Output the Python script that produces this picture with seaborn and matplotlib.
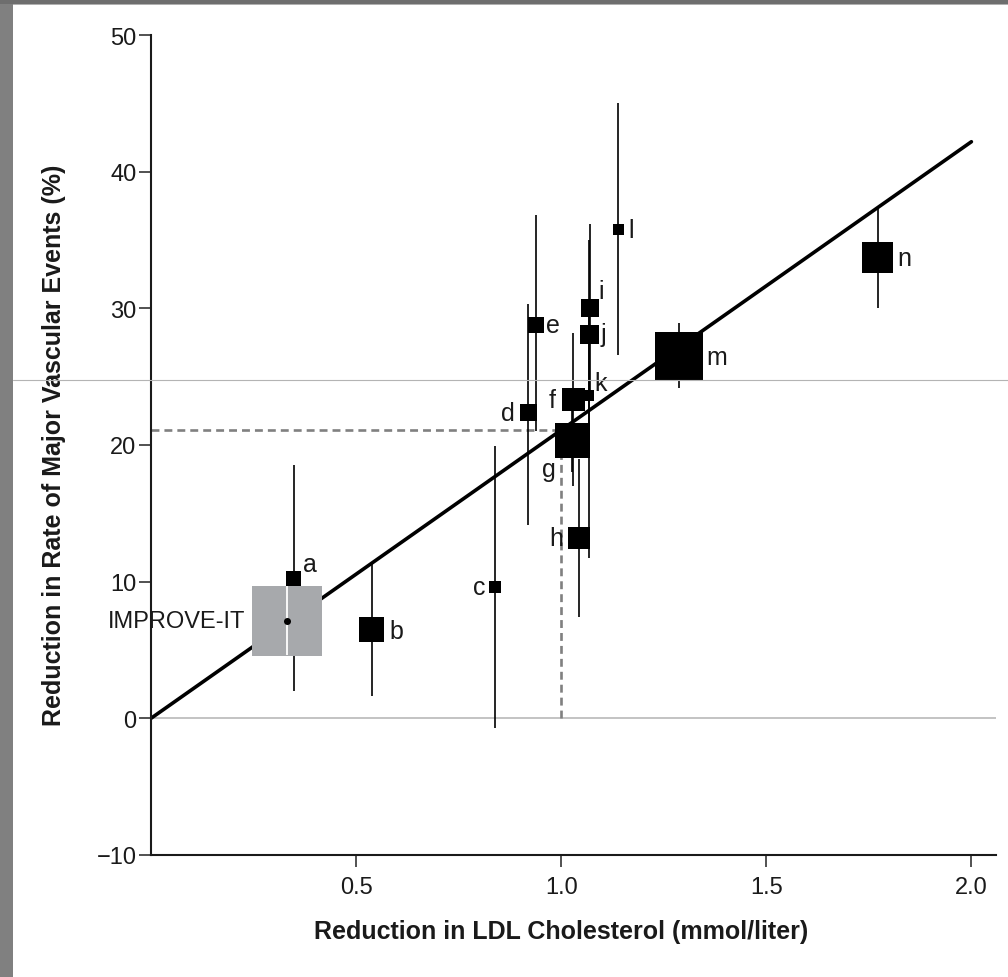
import numpy as np
import pandas as pd
import matplotlib
matplotlib.use("Agg")
import matplotlib.pyplot as plt
import seaborn as sns
from matplotlib.lines import Line2D
from matplotlib.patches import Rectangle

# ---------------- data ----------------
trials = ["a", "b", "c", "d", "e", "f", "g", "h", "i", "j", "k", "l", "m", "n"]
ldl_reduction = [0.348, 0.538, 0.837, 0.919, 0.939, 1.029, 1.027, 1.042,
                 1.069, 1.068, 1.067, 1.139, 1.287, 1.772]
event_reduction = [10.2, 6.5, 9.6, 22.35, 28.75, 23.3, 20.3, 13.2,
                   30.0, 28.1, 23.6, 35.75, 26.5, 33.7]
ci_low = [2.0, 1.6, -0.7, 14.15, 21.0, 17.0, 18.0, 7.4,
          24.0, 20.0, 11.7, 26.6, 24.2, 30.0]
ci_high = [18.5, 11.3, 19.9, 30.3, 36.8, 28.2, 23.0, 19.0,
           36.2, 35.0, 30.0, 45.0, 28.9, 37.4]
weights = [15, 25, 12, 17, 16, 23, 35, 22, 18, 19, 11, 11, 48, 31]

improve_name = "IMPROVE-IT"
improve_ldl = [0.331]
improve_event = [7.12]
improve_ci = [4.6, 9.8]
improve_weight = [70]

ctt_slope = 21.1
ctt_x = [0.0, 2.0]
ref_ldl = 1.0

x_ticks = [0.5, 1.0, 1.5, 2.0]
x_ticklabels = ["0.5", "1.0", "1.5", "2.0"]
y_ticks = [-10, 0, 10, 20, 30, 40, 50]
y_ticklabels = ["\u221210", "0", "10", "20", "30", "40", "50"]
x_label = "Reduction in LDL Cholesterol (mmol/liter)"
y_label = "Reduction in Rate of Major Vascular Events (%)"

# ---------------- style ----------------
sns.set_theme(style="white")
plt.rcParams["font.family"] = ["Liberation Sans", "DejaVu Sans"]
TXT = "#1a1a1a"

df = pd.DataFrame({"trial": trials, "ldl": ldl_reduction, "event": event_reduction,
                   "lo": ci_low, "hi": ci_high, "w": weights})
imp = pd.DataFrame({"ldl": improve_ldl, "event": improve_event, "w": improve_weight})

PX2PT = 72.0 / 100.0

fig = plt.figure(figsize=(10.08, 9.78), dpi=100)
ax = fig.add_axes([151.3 / 1008, (978 - 855.7) / 978, (996 - 151.3) / 1008, (855.7 - 36.2) / 978])

# reference lines
ax.axhline(0, color="#b3b3b3", lw=1.1, zorder=1)
xr = np.array(ctt_x)
ax.plot(xr, ctt_slope * xr, color="black", lw=2.6, solid_capstyle="round", zorder=2)
yref = ctt_slope * ref_ldl
ax.plot([0, ref_ldl], [yref, yref], color="#808080", lw=1.9, dashes=(3.0, 1.9), zorder=1.5)
ax.plot([ref_ldl, ref_ldl], [0, yref], color="#808080", lw=1.9, dashes=(3.0, 1.9), zorder=1.5)

# confidence intervals
ax.vlines(df["ldl"], df["lo"], df["hi"], color="black", lw=1.2, zorder=2.5)

# IMPROVE-IT box
sns.scatterplot(data=imp, x="ldl", y="event", marker="s", s=(imp["w"] * PX2PT) ** 2,
                color="#a7a9ac", linewidth=0, ax=ax, zorder=3, legend=False)
ax.vlines(imp["ldl"], improve_ci[0], improve_ci[1], color="white", lw=1.3, zorder=3.2)
sns.scatterplot(data=imp, x="ldl", y="event", marker="o", s=(7 * PX2PT) ** 2,
                color="black", linewidth=0, ax=ax, zorder=3.4, legend=False)

# trial squares
sns.scatterplot(data=df, x="ldl", y="event", marker="s", s=(df["w"] * PX2PT) ** 2,
                color="black", linewidth=0, ax=ax, zorder=4, legend=False)

# labels (offsets in pixels)
label_offsets = {"a": (16, -15), "b": (24, 2), "c": (-15, 0), "d": (-20, 0),
                 "e": (17, 0), "f": (-21, 0), "g": (-24, 28), "h": (-22, 0),
                 "i": (11, -17), "j": (14, 0), "k": (12, -13), "l": (13, 0),
                 "m": (38, 1), "n": (26, 0)}
for t, xv, yv in zip(trials, ldl_reduction, event_reduction):
    dx, dy = label_offsets[t]
    ax.annotate(t, (xv, yv), xytext=(dx * PX2PT, -dy * PX2PT), textcoords="offset points",
                ha="center", va="center", fontsize=18, color=TXT, zorder=5)
ax.annotate(improve_name, (improve_ldl[0], improve_event[0]), xytext=(-42 * PX2PT, 0),
            textcoords="offset points", ha="right", va="center", fontsize=17, color=TXT)

# axes
ax.set_xlim(0, 2.06)
ax.set_ylim(-10, 50)
ax.set_xticks(x_ticks)
ax.set_xticklabels(x_ticklabels)
ax.set_yticks(y_ticks)
ax.set_yticklabels(y_ticklabels)
ax.tick_params(axis="both", which="major", direction="out", length=8.6, width=1.1,
               color="#222222", labelsize=17, labelcolor=TXT, bottom=True, left=True)
ax.tick_params(axis="x", pad=7)
ax.tick_params(axis="y", pad=2)
for side in ["top", "right"]:
    ax.spines[side].set_visible(False)
for side in ["left", "bottom"]:
    ax.spines[side].set_linewidth(1.5)
    ax.spines[side].set_color("#1a1a1a")
ax.set_xlabel(x_label, fontsize=18, fontweight="bold", color=TXT)
ax.set_ylabel(y_label, fontsize=18, fontweight="bold", color=TXT)
ax.xaxis.set_label_coords((561 - 151.3) / 844.7, (855.7 - 932) / 819.5)
ax.xaxis.label.set_va("center")
ax.yaxis.set_label_coords((54 - 151.3) / 844.7, (855.7 - 445) / 819.5)
ax.yaxis.label.set_va("center")

# screenshot frame
fig.add_artist(Rectangle((0, 0), 12.7 / 1008, 1, transform=fig.transFigure,
                         color="#808080", lw=0, zorder=10))
fig.add_artist(Rectangle((0, 1 - 5 / 978), 1, 5 / 978, transform=fig.transFigure,
                         color="#6e6e6e", lw=0, zorder=10))
fig.add_artist(Rectangle((12.7 / 1008, 1 - 6 / 978), 1, 1 / 978, transform=fig.transFigure,
                         color="#b0b0b0", lw=0, zorder=10))
fig.add_artist(Line2D([12.7 / 1008, 1], [(978 - 380.5) / 978] * 2, transform=fig.transFigure,
                      color="#b4b4b4", lw=0.8, zorder=0.5))

fig.savefig("out.png", dpi=100)
